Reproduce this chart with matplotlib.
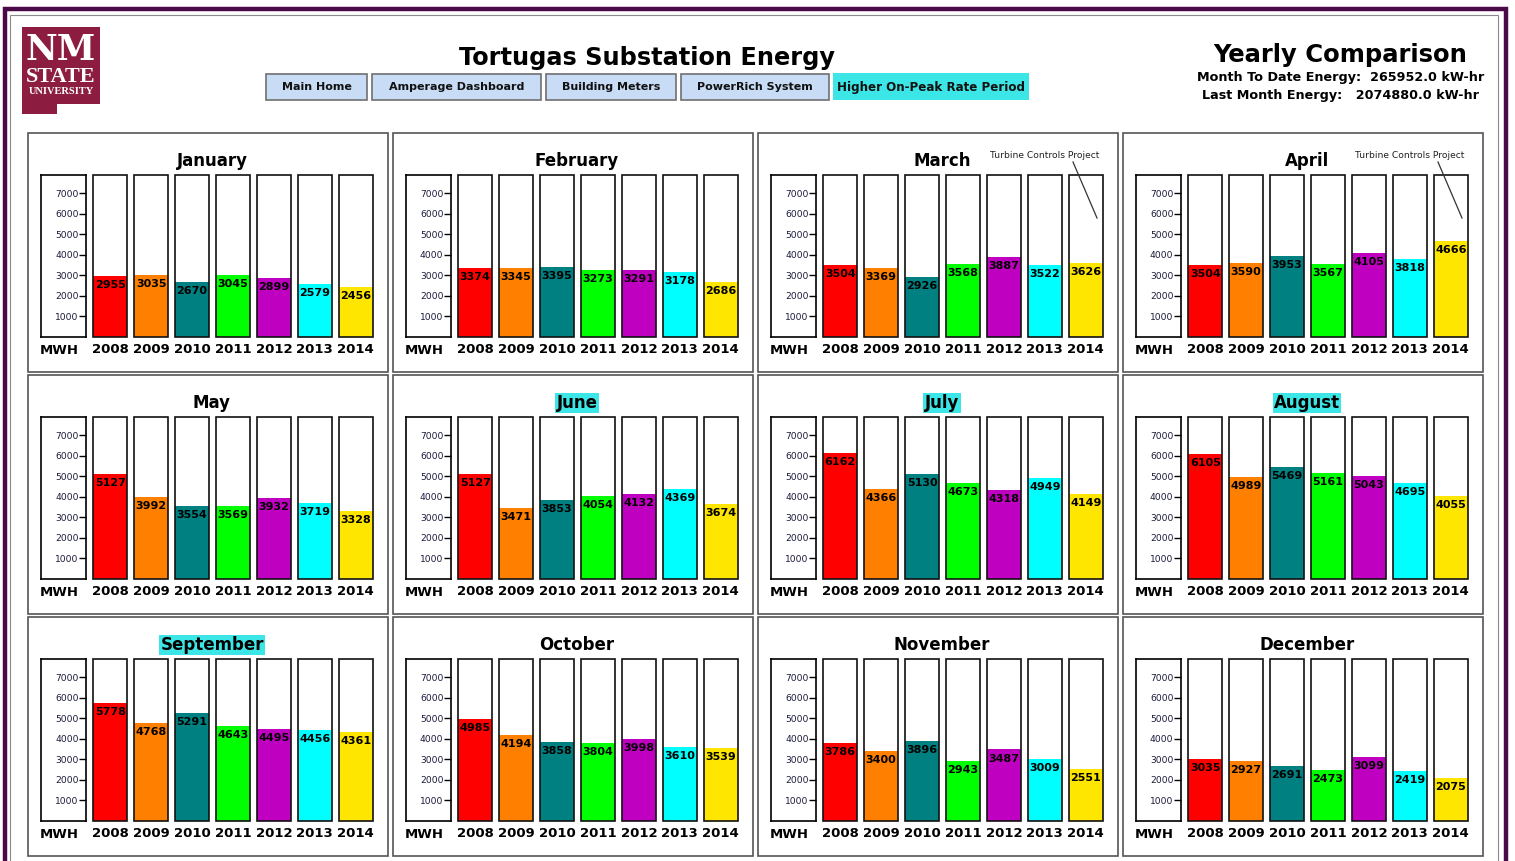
import matplotlib
matplotlib.use('Agg')
import matplotlib.pyplot as plt
from matplotlib.patches import Rectangle, Polygon
from matplotlib.lines import Line2D

W, H = 1515, 861

# data
months = ['January', 'February', 'March', 'April', 'May', 'June',
          'July', 'August', 'September', 'October', 'November', 'December']
years = ['2008', '2009', '2010', '2011', '2012', '2013', '2014']
colors = ['#ff0000', '#ff8000', '#008080', '#00ff00', '#c000c0', '#00ffff', '#ffe600']
highlighted = ['June', 'July', 'August', 'September']
annotated = ['March', 'April']

jan = [2955, 3035, 2670, 3045, 2899, 2579, 2456]
feb = [3374, 3345, 3395, 3273, 3291, 3178, 2686]
mar = [3504, 3369, 2926, 3568, 3887, 3522, 3626]
apr = [3504, 3590, 3953, 3567, 4105, 3818, 4666]
may = [5127, 3992, 3554, 3569, 3932, 3719, 3328]
jun = [5127, 3471, 3853, 4054, 4132, 4369, 3674]
jul = [6162, 4366, 5130, 4673, 4318, 4949, 4149]
aug = [6105, 4989, 5469, 5161, 5043, 4695, 4055]
sep = [5778, 4768, 5291, 4643, 4495, 4456, 4361]
oct_ = [4985, 4194, 3858, 3804, 3998, 3610, 3539]
nov = [3786, 3400, 3896, 2943, 3487, 3009, 2551]
dec = [3035, 2927, 2691, 2473, 3099, 2419, 2075]
energy = [jan, feb, mar, apr, may, jun, jul, aug, sep, oct_, nov, dec]

y_max = 7900
scale_ticks = [1000, 2000, 3000, 4000, 5000, 6000, 7000]

buttons = ['Main Home', 'Amperage Dashboard', 'Building Meters', 'PowerRich System']
month_to_date = 'Month To Date Energy:  265952.0 kW-hr'
last_month = 'Last Month Energy:   2074880.0 kW-hr'

fig = plt.figure(figsize=(W / 100, H / 100), dpi=100)


def add_ax(x0, y0, x1, y1):
    # pixel box measured from the top left corner
    return fig.add_axes([x0 / W, 1 - y1 / H, (x1 - x0) / W, (y1 - y0) / H])


def rect(x0, y0, x1, y1, **kw):
    fig.patches.append(Rectangle((x0 / W, 1 - y1 / H), (x1 - x0) / W, (y1 - y0) / H,
                                 transform=fig.transFigure, **kw))


def ftext(x, y, s, **kw):
    fig.text(x / W, 1 - y / H, s, **kw)


# outer frame
rect(5, 9, 1506, 920, fill=False, edgecolor='#4a0a48', lw=3.2)
rect(10, 15, 1498, 920, fill=False, edgecolor='#8a8a8a', lw=0.8)

# logo
logo = [(22, 27), (100, 27), (100, 104), (57, 104), (57, 114), (22, 114)]
fig.patches.append(Polygon([(x / W, 1 - y / H) for x, y in logo], closed=True,
                           transform=fig.transFigure, facecolor='#8c1d40', edgecolor='none'))
ftext(61, 50, 'NM', family='DejaVu Serif', fontsize=25, color='white',
      ha='center', va='center', fontweight='bold')
ftext(61, 77, 'STATE', family='Liberation Serif', fontsize=16, color='white',
      ha='center', va='center', fontweight='bold')
ftext(61, 91, 'UNIVERSITY', family='Liberation Serif', fontsize=7.5, color='white',
      ha='center', va='center', fontweight='bold')

# header
ftext(647, 58, 'Tortugas Substation Energy', fontsize=17.3, fontweight='bold',
      ha='center', va='center')
ftext(1340, 55, 'Yearly Comparison', fontsize=17.5, fontweight='bold',
      ha='center', va='center')
ftext(1341, 78, month_to_date, fontsize=9.2, fontweight='bold', ha='center', va='center')
ftext(1341, 95, last_month, fontsize=9.2, fontweight='bold', ha='center', va='center')

button_x = [(266, 367), (372, 541), (546, 676), (681, 829)]
for label, (bx0, bx1) in zip(buttons, button_x):
    rect(bx0, 74, bx1, 100, facecolor='#c9dcf6', edgecolor='#707070', lw=1.2)
    ftext((bx0 + bx1) / 2, 87, label, fontsize=8, fontweight='bold',
          ha='center', va='center', color='#111111')
rect(833, 73, 1029, 100, facecolor='#3de6e6', edgecolor='none')
ftext(931, 87, 'Higher On-Peak Rate Period', fontsize=8.6, fontweight='bold',
      ha='center', va='center', color='#111111')

# panels
col_left = [28, 393, 758, 1123]
row_top = [133, 375, 617]
bar_w = 0.84
x = list(range(len(years)))

for i, month in enumerate(months):
    px = col_left[i % 4]
    py = row_top[i // 4]
    vals = energy[i]

    rect(px, py, px + 360, py + 239, fill=False, edgecolor='#555555', lw=1.2)

    # title
    if month in highlighted:
        ftext(px + 184, py + 28, month, fontsize=12, fontweight='bold', ha='center',
              va='center', bbox=dict(facecolor='#3de6e6', edgecolor='none', pad=1))
    else:
        ftext(px + 184, py + 28, month, fontsize=12, fontweight='bold',
              ha='center', va='center')

    # scale box
    sax = add_ax(px + 13, py + 42, px + 58, py + 204)
    sax.set_ylim(0, y_max)
    sax.set_xticks([])
    sax.set_yticks(scale_ticks)
    sax.set_yticklabels([str(t) for t in scale_ticks], fontsize=6.6, color='#1a1a3a')
    sax.tick_params(axis='y', left=False, right=True, direction='in', length=5,
                    width=1, pad=-27)
    for s in sax.spines.values():
        s.set_linewidth(1.2)

    # bars
    bax = add_ax(px + 65, py + 42, px + 345, py + 204)
    bax.set_xlim(-bar_w / 2, len(years) - 1 + bar_w / 2)
    bax.set_ylim(0, y_max)
    bax.bar(x, [y_max] * len(x), bar_w, color='white', edgecolor='none', zorder=1)
    bax.bar(x, vals, bar_w, color=colors, edgecolor='none', zorder=2)
    bax.bar(x, [y_max] * len(x), bar_w, fill=False, edgecolor='#111111', lw=1.2,
            zorder=3, clip_on=False)
    for xi, v in zip(x, vals):
        bax.annotate(str(v), (xi, v), xytext=(0, -6.5), textcoords='offset points',
                     ha='center', va='center', fontsize=8, fontweight='bold', zorder=4)
    for s in bax.spines.values():
        s.set_visible(False)
    bax.set_yticks([])
    bax.set_xticks(x)
    bax.set_xticklabels(years, fontsize=9.5, fontweight='bold')
    bax.tick_params(axis='x', length=0, pad=4)

    ftext(px + 31, py + 217, 'MWH', fontsize=9.5, fontweight='bold',
          ha='center', va='center')

    if month in annotated:
        ftext(px + 287, py + 23, 'Turbine Controls Project', fontsize=6.6,
              ha='center', va='center', color='#222222')
        fig.add_artist(Line2D([(px + 315) / W, (px + 339) / W],
                              [1 - (py + 29) / H, 1 - (py + 85) / H],
                              color='#333333', lw=0.9))

fig.savefig('out.png', dpi=100)
